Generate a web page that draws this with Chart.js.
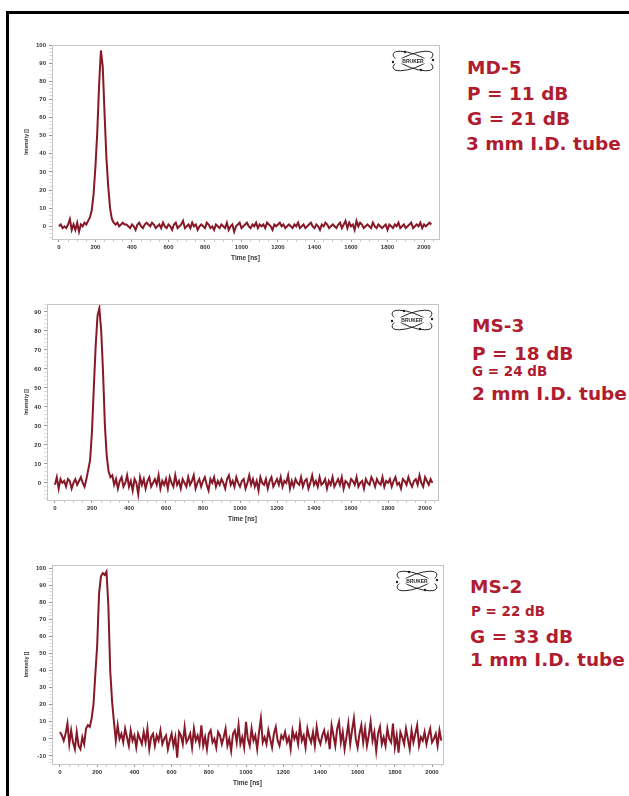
<!DOCTYPE html>
<html>
<head>
<meta charset="utf-8">
<script src="https://cdn.jsdelivr.net/npm/chart.js@4.4.1/dist/chart.umd.min.js"></script>
<style>
  html, body { margin: 0; padding: 0; background: #fff; }
  body { width: 629px; height: 796px; position: relative; overflow: hidden; }
  #frame { position: absolute; left: 6px; top: 11px; width: 640px; height: 800px;
           border-left: 3px solid #000; border-top: 3px solid #000; }
  .wrap { position: absolute; left: 0; }
  .label { position: absolute; font-family: "DejaVu Sans", sans-serif; font-weight: 700;
           color: #b01c30; line-height: 1; white-space: nowrap; font-size: 18.5px; }
  .small { font-size: 13.5px; }
</style>
</head>
<body>
<div id="frame"></div>
<div class="wrap" id="w1"><canvas id="c1"></canvas></div>
<div class="wrap" id="w2"><canvas id="c2"></canvas></div>
<div class="wrap" id="w3"><canvas id="c3"></canvas></div>

<div class="label" style="left:467px;top:59px;">MD-5</div>
<div class="label" style="left:467px;top:85px;">P = 11 dB</div>
<div class="label" style="left:467px;top:110px;">G = 21 dB</div>
<div class="label" style="left:466px;top:135px;">3 mm I.D. tube</div>

<div class="label" style="left:472px;top:317px;">MS-3</div>
<div class="label" style="left:472px;top:345px;">P = 18 dB</div>
<div class="label small" style="left:472px;top:365px;">G = 24 dB</div>
<div class="label" style="left:472px;top:385px;">2 mm I.D. tube</div>

<div class="label" style="left:470px;top:578px;">MS-2</div>
<div class="label small" style="left:471px;top:605px;">P = 22 dB</div>
<div class="label" style="left:470px;top:628px;">G = 33 dB</div>
<div class="label" style="left:470px;top:651px;">1 mm I.D. tube</div>

<script>
// ---------------- DATA ----------------
const sampleStepNs = 10;           // sampling interval of each trace (ns)
const xTickLabels = [0, 200, 400, 600, 800, 1000, 1200, 1400, 1600, 1800, 2000];
const xMinorStep = 50;

const yTicksMD5 = [0, 10, 20, 30, 40, 50, 60, 70, 80, 90, 100];
const yTicksMS3 = [0, 10, 20, 30, 40, 50, 60, 70, 80, 90];
const yTicksMS2 = [-10, 0, 10, 20, 30, 40, 50, 60, 70, 80, 90, 100];

// MD-5, 3 mm tube: intensity every 10 ns starting at 0 ns
const intensityMD5 = [
  0, 1, -1, 0, -1, 1, 4, -2, 1, -2, 2, -3, 1, 0, 2, 1, 3,
  5, 9, 18, 33, 52, 78, 97, 88, 62, 38, 22, 10, 4, 2,
  1, 2, 0, 1, 2, 1, 1, 0, -1, 1, 0, -2, 1, 2, 0, -1, 1, 2, 1, 0, 2, 1, -1, 0, 1, -1, 2, 0, -1, 1,
  0, -2, 1, 2, -1, 0, 1, 3, -1, 0, 1, -1, 2, 0, 1, -2, 0, 1, 0, -1, 2, 1, -1, 0, -2, 1, 0, -1, 1, 0,
  -1, 2, -2, 0, 1, -3, 0, 1, 2, -1, 0, 1, 2, 0, -1, 1, 0, 2, -1, 1, 0, 1, -1, 2, 1, 0, -2, 1, 0, 1,
  2, 0, 1, -1, 0, 1, 0, -1, 1, 0, 2, -1, 0, 1, -1, 0, 1, 2, 0, -1, 1, 0, -2, 1, 0, 2, 1, -1, 0, 1,
  0, -1, 1, 2, -1, 1, 3, -1, 2, 0, 1, -2, 3, 0, 2, 1, -1, 0, 1, 0, -1, 2, 0, -1, 1, 0, -1, 0, 1, -2,
  1, 0, -1, 1, 0, 2, -1, 0, 1, -1, 0, 1, 2, -1, 0, 1, 0, 2, -1, 1, 0, 1, 2, 1
];

// MS-3, 2 mm tube
const intensityMS3 = [
  -1, 3, -3, 2, 0, 1, -2, 2, 1, -3, 0, 2, -1, 1, 3, 0, -2, 2,
  7, 12, 27, 50, 72, 88, 92, 80, 58, 30, 14, 6, 3,
  4, -1, 2, -3, 1, 3, -2, 0, 4, -2, 1, -4, 2, 0, -6, 3, -1, 2, -3, 1, 3, -2, 0, 2, -1, 4, -3, 1, -1, 2,
  -3, 3, 0, -2, 4, -1, 1, -3, 2, 0, -2, 3, -1, 1, 4, -3, 0, 2, -2, 1, 3, -1, -4, 2, 0, 3, -2, 1, -1, 2,
  0, -3, 2, 4, -1, 1, -2, 3, 0, -2, 1, 2, -3, 0, 4, -1, 2, -2, 1, -4, 3, 0, -1, 2, -3, 1, 3, -2, 0, 2,
  -1, 3, -2, 1, 0, 4, -3, 1, -2, 2, 0, -1, 3, -2, 1, 2, -3, 0, 4, -1, 1, -2, 3, -1, 0, 2, -3, 1, -1, 3,
  -2, 0, 2, -1, 3, -3, 1, 0, -2, 2, 1, -1, 3, -2, 0, 1, -3, 2, 0, -1, 3, 1, -2, 2, 0, -1, 3, -2, 1, 0,
  2, -2, 1, 3, -1, 0, -3, 2, 1, -1, 3, 0, -2, 1, 2, -1, 4, 0, -2, 3, 1, -1, 2, 0
];

// MS-2, 1 mm tube
const intensityMS2 = [
  4, 2, -1, 3, 9, -3, 5, -2, -6, 4, -4, -6, 1, -3, 6,
  8, 7, 12, 20, 38, 55, 85, 95, 97, 96, 98, 78, 40, 22, 10, -1,
  8, 0, 3, -2, 6, 1, -4, 5, -1, 2, -5, 3, 0, -3, 4, -2, 6, -6, 1, 3, -4, 2, -1, 5, -3, 0, 2, -6, -1, 3,
  -4, 1, -11, 4, 2, -3, 7, -2, 0, 3, -5, 6, -1, 2, -3, 8, -4, 1, -6, 3, 5, -2, 0, -5, 4, 2, -3, 1, 6, -4,
  0, -7, 3, 5, -2, 8, -3, 1, -5, 10, 0, -4, 6, -1, 2, -6, 4, 12, -2, 1, -3, 5, 0, -5, 3, 7, -1, -4, 2, 0,
  4, -2, 1, -6, 5, 0, 3, -3, 8, -1, 2, -5, 6, 1, -2, 4, -4, 7, 0, -3, 2, 5, -1, 3, -6, 8, 2, -4, 6, 10,
  -2, 4, -6, 1, 9, -3, 5, 12, 0, -5, 3, 8, -2, 6, -4, 2, 10, -1, 4, -7, 3, 7, -3, 1, -4, 6, 0, -2, 9, -5,
  2, -8, 4, 1, -3, 6, 0, -6, 5, -2, 3, 8, -4, 1, -1, 4, -3, 2, 6, -2, 0, 3, -4, 5, -1
];

// ---------------- STYLE / LAYOUT ----------------
const traceColor = '#861828';
const frameColor = '#c4c4c4';
const tickFont = { family: 'Liberation Sans, Arial, sans-serif', size: 6, weight: 'bold' };

const panels = [
  { id: 'c1', wrap: 'w1', data: intensityMD5, yTicks: yTicksMD5,
    area: { l: 52, t: 45, r: 439, b: 239 }, x: [-38, 2082], y: [-7, 100] },
  { id: 'c2', wrap: 'w2', data: intensityMS3, yTicks: yTicksMS3,
    area: { l: 47, t: 304, r: 438, b: 500 }, x: [-43, 2070], y: [-9, 94.2] },
  { id: 'c3', wrap: 'w3', data: intensityMS2, yTicks: yTicksMS2,
    area: { l: 52, t: 565, r: 443, b: 764 }, x: [-43, 2059], y: [-14.7, 101.8] }
];

const framePlugin = {
  id: 'frame',
  afterDraw(chart) {
    const { ctx, chartArea: a } = chart;
    ctx.save();
    ctx.strokeStyle = frameColor;
    ctx.lineWidth = 1;
    ctx.strokeRect(Math.round(a.left) + 0.5, Math.round(a.top) + 0.5,
                   Math.round(a.right - a.left), Math.round(a.bottom - a.top));
    // Bruker logo in top-right corner
    const cx = a.right - 26, cy = a.top + 16;
    ctx.strokeStyle = '#222';
    ctx.lineWidth = 1;
    [0.35, -0.35].forEach(rot => {
      ctx.beginPath();
      ctx.ellipse(cx, cy, 21, 7, rot, 0, Math.PI * 2);
      ctx.stroke();
    });
    ctx.fillStyle = '#fff';
    ctx.fillRect(cx - 22, cy - 2.5, 44, 5);
    ctx.fillStyle = '#222';
    ctx.font = 'bold 5px "Liberation Sans", Arial, sans-serif';
    ctx.textAlign = 'center';
    ctx.textBaseline = 'middle';
    ctx.fillText('BRUKER', cx, cy + 0.5);
    [[cx - 8, cy - 9], [cx + 8, cy + 9], [cx - 20, cy + 1], [cx + 20, cy - 1]].forEach(p => {
      ctx.beginPath(); ctx.arc(p[0], p[1], 1.2, 0, Math.PI * 2); ctx.fill();
    });
    ctx.restore();
  }
};

function buildTicks(major, minorStep, min, max) {
  const out = [];
  const start = Math.ceil(min / minorStep) * minorStep;
  for (let v = start; v <= max + 1e-9; v += minorStep) {
    out.push({ value: v, major: major.includes(v) });
  }
  return out;
}

panels.forEach(p => {
  const padL = 24, padT = 10, padR = 11, padB = 2, xH = 23;
  const W = p.area.r + padR;
  const H = (p.area.b - p.area.t) + padT + xH + padB;
  const wrap = document.getElementById(p.wrap);
  wrap.style.top = (p.area.t - padT) + 'px';
  wrap.style.width = W + 'px';
  wrap.style.height = H + 'px';
  const canvas = document.getElementById(p.id);
  canvas.width = W; canvas.height = H;
  canvas.style.width = W + 'px'; canvas.style.height = H + 'px';

  const points = p.data.map((v, i) => ({ x: i * sampleStepNs, y: v }));

  new Chart(canvas, {
    type: 'line',
    data: { datasets: [{ data: points, borderColor: traceColor, borderWidth: 2,
                         pointRadius: 0, tension: 0, fill: false }] },
    options: {
      responsive: false, animation: false, parsing: false,
      layout: { padding: { left: padL, top: padT, right: padR, bottom: padB } },
      plugins: { legend: { display: false }, tooltip: { enabled: false } },
      scales: {
        x: {
          type: 'linear', min: p.x[0], max: p.x[1],
          afterBuildTicks: s => { s.ticks = buildTicks(xTickLabels, xMinorStep, p.x[0], p.x[1]); },
          afterFit: s => { s.height = xH; },
          border: { color: frameColor, width: 1 },
          grid: { drawOnChartArea: false, tickLength: 3,
                  tickColor: c => (c.tick && xTickLabels.includes(c.tick.value)) ? '#999' : '#ccc' },
          ticks: { font: tickFont, color: '#333', padding: 2, maxRotation: 0, autoSkip: false,
                   callback: v => xTickLabels.includes(v) ? String(v) : '' },
          title: { display: true, text: 'Time [ns]', color: '#333',
                   font: { family: 'Liberation Sans, Arial, sans-serif', size: 6.5, weight: 'bold' },
                   padding: { top: 0, bottom: 0 } }
        },
        y: {
          type: 'linear', min: p.y[0], max: p.y[1],
          afterBuildTicks: s => { s.ticks = buildTicks(p.yTicks, 2, p.y[0], p.y[1]); },
          afterFit: s => { s.width = p.area.l - padL; },
          border: { color: frameColor, width: 1 },
          grid: { drawOnChartArea: false, tickLength: 3,
                  tickColor: c => (c.tick && p.yTicks.includes(c.tick.value)) ? '#999' : '#ddd' },
          ticks: { font: tickFont, color: '#333', padding: 3, autoSkip: false,
                   callback: v => p.yTicks.includes(v) ? String(v) : '' },
          title: { display: true, text: 'Intensity []', color: '#333',
                   font: { family: 'Liberation Sans, Arial, sans-serif', size: 5, weight: 'bold' },
                   padding: { top: 0, bottom: 0 } }
        }
      }
    },
    plugins: [framePlugin]
  });
});
</script>
</body>
</html>
